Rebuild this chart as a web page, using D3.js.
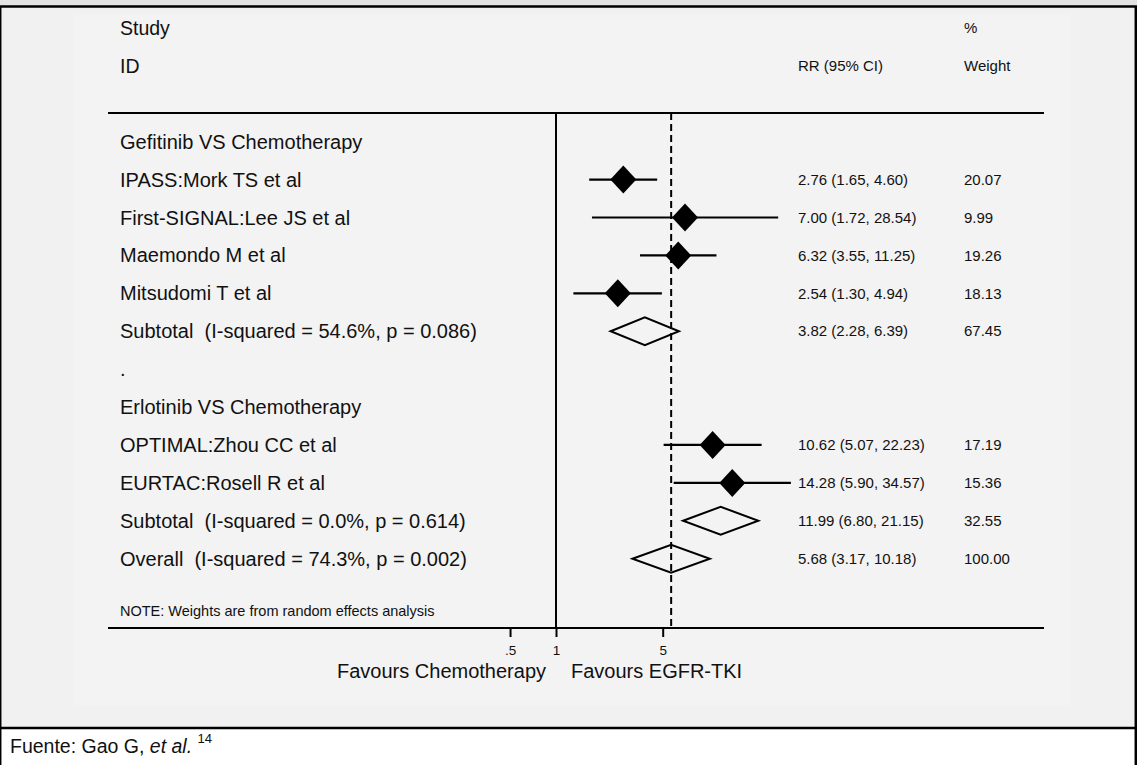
<!DOCTYPE html>
<html><head><meta charset="utf-8">
<script src="https://cdn.jsdelivr.net/npm/d3@7"></script>
<style>
html,body{margin:0;padding:0;background:#fff;}
svg{display:block;font-family:"Liberation Sans",Arial,Helvetica,sans-serif;}
text{white-space:pre;fill:#111;}
</style></head>
<body>
<svg id="chart" width="1137" height="765"></svg>
<script>
// ---- data ----
const groupNames = ["Gefitinib VS Chemotherapy", "Erlotinib VS Chemotherapy"];
const studyNames = ["IPASS:Mork TS et al", "First-SIGNAL:Lee JS et al", "Maemondo M et al",
  "Mitsudomi T et al", "OPTIMAL:Zhou CC et al", "EURTAC:Rosell R et al"];
const studyGroup = [0, 0, 0, 0, 1, 1];
const studyRR = [2.76, 7.00, 6.32, 2.54, 10.62, 14.28];
const studyLo = [1.65, 1.72, 3.55, 1.30, 5.07, 5.90];
const studyHi = [4.60, 28.54, 11.25, 4.94, 22.23, 34.57];
const studyWeight = ["20.07", "9.99", "19.26", "18.13", "17.19", "15.36"];
const subtotalLabels = ["Subtotal  (I-squared = 54.6%, p = 0.086)", "Subtotal  (I-squared = 0.0%, p = 0.614)"];
const subtotalRR = [3.82, 11.99];
const subtotalLo = [2.28, 6.80];
const subtotalHi = [6.39, 21.15];
const subtotalWeight = ["67.45", "32.55"];
const overallLabel = "Overall  (I-squared = 74.3%, p = 0.002)";
const overallRR = 5.68, overallLo = 3.17, overallHi = 10.18, overallWeight = "100.00";
const tickValues = [0.5, 1, 5];
const tickLabels = [".5", "1", "5"];
const noteText = "NOTE: Weights are from random effects analysis";
const leftAxisTitle = "Favours Chemotherapy", rightAxisTitle = "Favours EGFR-TKI";

const fmt = v => v.toFixed(2);
const ciText = (r, l, h) => `${fmt(r)} (${fmt(l)}, ${fmt(h)})`;

// build row table
const rows = [];
groupNames.forEach((g, gi) => {
  rows.push({type: "group", label: g});
  studyNames.forEach((s, i) => {
    if (studyGroup[i] === gi) rows.push({type: "study", label: s, rr: studyRR[i], lo: studyLo[i], hi: studyHi[i], w: studyWeight[i]});
  });
  rows.push({type: "sub", label: subtotalLabels[gi], rr: subtotalRR[gi], lo: subtotalLo[gi], hi: subtotalHi[gi], w: subtotalWeight[gi]});
  rows.push({type: "dot", label: "."});
});
rows.pop();
rows.push({type: "sub", label: overallLabel, rr: overallRR, lo: overallLo, hi: overallHi, w: overallWeight});

// ---- layout ----
const svg = d3.select("#chart");
const W = 1137, H = 765;
const x = d3.scaleLog().domain([1, 5]).range([556, 662.7]);
const y = d3.scaleLinear().domain([0, rows.length - 1]).range([141.7, 558.7]);
const labelX = 120, rrX = 798, wX = 964;
const lineL = 108, lineR = 1044, topLine = 113, axisY = 628;

// backgrounds
svg.append("rect").attr("x", 0).attr("y", 0).attr("width", W).attr("height", 7).attr("fill", "#e3e3e3");
svg.append("rect").attr("x", 0).attr("y", 7).attr("width", W).attr("height", 721).attr("fill", "#f1f1f1");
svg.append("rect").attr("x", 73).attr("y", 15).attr("width", 997).attr("height", 690).attr("fill", "#f3f3f3");
svg.append("rect").attr("x", 0).attr("y", 728).attr("width", W).attr("height", 37).attr("fill", "#fff");

// frame
svg.append("line").attr("x1", 0).attr("x2", W).attr("y1", 6.5).attr("y2", 6.5).attr("stroke", "#000").attr("stroke-width", 2.5);
svg.append("line").attr("x1", 0).attr("x2", W).attr("y1", 728).attr("y2", 728).attr("stroke", "#000").attr("stroke-width", 2.5);
svg.append("line").attr("x1", 0.7).attr("x2", 0.7).attr("y1", 6).attr("y2", H).attr("stroke", "#000").attr("stroke-width", 1.5);
svg.append("line").attr("x1", 1135.8).attr("x2", 1135.8).attr("y1", 6).attr("y2", H).attr("stroke", "#000").attr("stroke-width", 2.5);

// header text
const hdr = svg.append("g");
hdr.append("text").attr("x", labelX).attr("y", y(-3)).attr("dy", "0.35em").attr("font-size", 19.5).text("Study");
hdr.append("text").attr("x", labelX).attr("y", y(-2)).attr("dy", "0.35em").attr("font-size", 19.5).text("ID");
hdr.append("text").attr("x", rrX).attr("y", y(-2)).attr("dy", "0.35em").attr("font-size", 15).text("RR (95% CI)");
hdr.append("text").attr("x", wX).attr("y", y(-3)).attr("dy", "0.35em").attr("font-size", 15).text("%");
hdr.append("text").attr("x", wX).attr("y", y(-2)).attr("dy", "0.35em").attr("font-size", 15).text("Weight");

// horizontal lines
svg.append("line").attr("x1", lineL).attr("x2", lineR).attr("y1", topLine).attr("y2", topLine).attr("stroke", "#000").attr("stroke-width", 2);

// null line & overall dashed line
svg.append("line").attr("x1", x(1)).attr("x2", x(1)).attr("y1", topLine).attr("y2", axisY).attr("stroke", "#000").attr("stroke-width", 2);
svg.append("line").attr("x1", x(overallRR)).attr("x2", x(overallRR)).attr("y1", topLine).attr("y2", axisY)
  .attr("stroke", "#000").attr("stroke-width", 2).attr("stroke-dasharray", "7,4");

// rows
const g = svg.append("g");
rows.forEach((r, i) => {
  const yy = y(i);
  g.append("text").attr("x", labelX).attr("y", yy).attr("dy", "0.35em").attr("font-size", 20).text(r.label);
  if (r.type === "study") {
    g.append("line").attr("x1", x(r.lo)).attr("x2", x(r.hi)).attr("y1", yy).attr("y2", yy).attr("stroke", "#000").attr("stroke-width", 2.2);
    const cx = x(r.rr);
    g.append("path").attr("d", `M${cx - 13},${yy}L${cx},${yy - 14}L${cx + 13},${yy}L${cx},${yy + 14}Z`).attr("fill", "#000");
  }
  if (r.type === "sub") {
    const cx = x(r.rr);
    g.append("path").attr("d", `M${x(r.lo)},${yy}L${cx},${yy - 14}L${x(r.hi)},${yy}L${cx},${yy + 14}Z`)
      .attr("fill", "none").attr("stroke", "#000").attr("stroke-width", 2);
  }
  if (r.type === "study" || r.type === "sub") {
    g.append("text").attr("x", rrX).attr("y", yy).attr("dy", "0.35em").attr("font-size", 15).text(ciText(r.rr, r.lo, r.hi));
    g.append("text").attr("x", wX).attr("y", yy).attr("dy", "0.35em").attr("font-size", 15).text(r.w);
  }
});

// note
svg.append("text").attr("x", labelX).attr("y", 611).attr("dy", "0.35em").attr("font-size", 14.5).text(noteText);

// axis
svg.append("line").attr("x1", lineL).attr("x2", lineR).attr("y1", axisY).attr("y2", axisY).attr("stroke", "#000").attr("stroke-width", 2);
const axis = d3.axisBottom(x).tickValues(tickValues).tickSize(9).tickPadding(8)
  .tickFormat((d, i) => tickLabels[i]);
const ax = svg.append("g").attr("transform", `translate(0,${axisY})`).call(axis);
ax.select(".domain").remove();
ax.selectAll(".tick line").attr("stroke", "#000").attr("stroke-width", 2);
ax.selectAll(".tick text").attr("font-size", 13.5).attr("font-family", "Liberation Sans, Arial, sans-serif").attr("fill", "#111");

svg.append("text").attr("x", 546).attr("y", 671).attr("dy", "0.35em").attr("text-anchor", "end").attr("font-size", 20).text(leftAxisTitle);
svg.append("text").attr("x", 571).attr("y", 671).attr("dy", "0.35em").attr("font-size", 20).text(rightAxisTitle);

// footer
const ft = svg.append("text").attr("x", 10).attr("y", 753).attr("font-size", 19.5);
ft.append("tspan").text("Fuente: Gao G, ");
ft.append("tspan").attr("font-style", "italic").text("et al.");
ft.append("tspan").text(" ");
ft.append("tspan").attr("font-size", 13).attr("dy", -10).text("14");
</script>
</body></html>
